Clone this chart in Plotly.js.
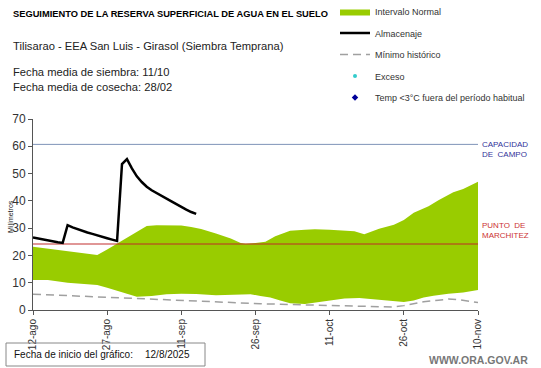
<!DOCTYPE html>
<html><head><meta charset="utf-8">
<script src="https://cdn.plot.ly/plotly-3.0.1.min.js"></script>
<style>html,body{margin:0;padding:0;background:#fff}#chart{width:541px;height:368px}</style>
</head><body><div id="chart"></div>
<script>
// ---- data ----
const almDates = ['2025-08-12','2025-08-13','2025-08-14','2025-08-15','2025-08-16','2025-08-17','2025-08-18','2025-08-19','2025-08-20','2025-08-21','2025-08-22','2025-08-23','2025-08-24','2025-08-25','2025-08-26','2025-08-27','2025-08-28','2025-08-29','2025-08-30','2025-08-31','2025-09-01','2025-09-02','2025-09-03','2025-09-04','2025-09-05','2025-09-06','2025-09-07','2025-09-08','2025-09-09','2025-09-10','2025-09-11','2025-09-12','2025-09-13','2025-09-14'];
const almValues = [26.6,26.2,25.8,25.4,25.1,24.8,24.6,31.1,30.3,29.6,29.0,28.4,27.9,27.3,26.8,26.3,25.8,25.3,53.5,55.3,51.9,49.0,46.9,45.2,43.9,42.8,41.8,40.8,39.8,38.8,37.7,36.8,35.9,35.2];

const upperDates = ['2025-08-12','2025-08-15','2025-08-19','2025-08-22','2025-08-25','2025-08-27','2025-08-29','2025-09-01','2025-09-04','2025-09-06','2025-09-09','2025-09-11','2025-09-13','2025-09-15','2025-09-18','2025-09-21','2025-09-23','2025-09-24','2025-09-26','2025-09-28','2025-09-30','2025-10-03','2025-10-06','2025-10-08','2025-10-11','2025-10-14','2025-10-16','2025-10-18','2025-10-21','2025-10-24','2025-10-26','2025-10-28','2025-10-30','2025-10-31','2025-11-02','2025-11-04','2025-11-05','2025-11-07','2025-11-08','2025-11-10'];
const upperValues = [23.2,22.5,21.4,20.8,20.2,22.2,24.4,27.8,30.8,31.1,30.9,31.0,30.4,29.7,28.0,26.2,24.6,24.3,24.6,25.0,27.0,29.0,29.4,29.6,29.4,29.2,28.9,27.8,29.8,31.2,33.0,35.6,37.2,38.0,40.2,42.3,43.2,44.3,45.2,47.0];

const lowerDates = ['2025-08-12','2025-08-15','2025-08-19','2025-08-22','2025-08-25','2025-08-27','2025-08-29','2025-08-31','2025-09-02','2025-09-05','2025-09-08','2025-09-11','2025-09-14','2025-09-18','2025-09-21','2025-09-23','2025-09-25','2025-09-27','2025-09-29','2025-10-01','2025-10-03','2025-10-06','2025-10-09','2025-10-11','2025-10-14','2025-10-17','2025-10-20','2025-10-22','2025-10-24','2025-10-26','2025-10-28','2025-10-30','2025-11-01','2025-11-04','2025-11-07','2025-11-10'];
const lowerValues = [11.0,11.0,10.0,9.6,9.2,8.2,7.1,5.9,4.9,5.1,5.8,6.0,5.9,5.4,5.6,5.7,5.8,5.1,4.6,3.5,2.5,2.2,3.0,3.6,4.2,4.4,3.9,3.4,3.1,2.9,3.5,4.6,5.2,6.0,6.4,7.3];

const minDates = ['2025-08-12','2025-08-17','2025-08-22','2025-08-25','2025-08-29','2025-09-03','2025-09-07','2025-09-11','2025-09-15','2025-09-19','2025-09-23','2025-09-27','2025-10-01','2025-10-06','2025-10-11','2025-10-17','2025-10-21','2025-10-24','2025-10-26','2025-10-28','2025-10-30','2025-11-02','2025-11-04','2025-11-06','2025-11-08','2025-11-10'];
const minValues = [5.8,5.4,5.0,4.8,4.4,4.0,3.7,3.4,3.1,2.8,2.5,2.3,2.1,1.8,1.6,1.4,1.2,1.1,1.6,2.4,3.0,3.6,4.0,3.8,3.3,2.7];

const refLineDates = ['2025-08-12','2025-11-10'];
const capacidadCampo = [60.7, 60.7];
const puntoMarchitez = [24.2, 24.2];

const tickDates = ['2025-08-12','2025-08-27','2025-09-11','2025-09-26','2025-10-11','2025-10-26','2025-11-10'];
const tickLabels = ['12-ago','27-ago','11-sep','26-sep','11-oct','26-oct','10-nov'];

// ---- chart ----
const FONT = 'Arial, "Liberation Sans", sans-serif';
const traces = [
  {x: lowerDates, y: lowerValues, type:'scatter', mode:'lines', line:{width:0, color:'#99CC00'}, showlegend:false, hoverinfo:'skip'},
  {x: upperDates, y: upperValues, type:'scatter', mode:'lines', fill:'tonexty', fillcolor:'#99CC00', line:{width:0, color:'#99CC00'}, name:'Intervalo Normal', legendgroup:'a', legendrank:1},
  {x: refLineDates, y: capacidadCampo, type:'scatter', mode:'lines', line:{width:1, color:'#7f93b8'}, showlegend:false},
  {x: refLineDates, y: puntoMarchitez, type:'scatter', mode:'lines', line:{width:1.5, color:'rgba(190,40,40,0.65)'}, showlegend:false},
  {x: minDates, y: minValues, type:'scatter', mode:'lines', line:{width:1.5, color:'#a0a0a0', dash:'8px,5px'}, name:'Mínimo histórico', legendgroup:'c', legendrank:3},
  {x: almDates, y: almValues, type:'scatter', mode:'lines', line:{width:2.5, color:'#000000'}, name:'Almacenaje', legendgroup:'b', legendrank:2},
  {x: [almDates[0]], y: [null], type:'scatter', mode:'markers', marker:{size:4, color:'#33cccc', symbol:'circle'}, name:'Exceso', legendgroup:'d', legendrank:4},
  {x: [almDates[0]], y: [null], type:'scatter', mode:'markers', marker:{size:5, color:'#000099', symbol:'diamond'}, name:'Temp <3°C fuera del período habitual', legendgroup:'e', legendrank:5}
];

const L = 33, R = 478, T = 119, B = 310;
const px = v => (v - L) / (R - L);
const py = v => (B - v) / (B - T);

const layout = {
  width: 541, height: 368,
  margin: {l: L, r: 541 - R, t: T, b: 368 - B, autoexpand: false},
  paper_bgcolor: '#ffffff', plot_bgcolor: '#ffffff',
  font: {family: FONT, color: '#333'},
  showlegend: true,
  legend: {x: px(335), y: py(-3), xanchor: 'left', yanchor: 'top', font: {size: 9, color: '#333', family: FONT}, bgcolor: 'rgba(0,0,0,0)', tracegroupgap: 2.5, itemwidth: 30},
  xaxis: {type: 'date', range: ['2025-08-12', '2025-11-10'], tickvals: tickDates, ticktext: tickLabels, tickangle: -90,
    ticks: 'outside', ticklen: 4, tickcolor: '#555', showline: true, linecolor: '#555', linewidth: 1, showgrid: false, zeroline: false,
    tickfont: {size: 10, color: '#333', family: FONT}, fixedrange: true},
  yaxis: {range: [0, 70], dtick: 10, ticks: 'outside', ticklen: 4, tickcolor: '#555', showline: true, linecolor: '#555', linewidth: 1,
    showgrid: false, zeroline: false, tickfont: {size: 12, color: '#333', family: FONT}, fixedrange: true},
  shapes: [
    {type: 'rect', xref: 'paper', yref: 'paper', x0: px(6), x1: px(205), y0: py(366), y1: py(343), line: {color: '#888', width: 1}, fillcolor: 'rgba(0,0,0,0)'}
  ],
  annotations: [
    {xref:'paper', yref:'paper', x: px(11), y: py(14), xanchor:'left', yanchor:'middle', showarrow:false, text:'<b>SEGUIMIENTO DE LA RESERVA SUPERFICIAL DE AGUA EN EL SUELO</b>', font:{size:9.3, color:'#000', family:FONT}},
    {xref:'paper', yref:'paper', x: px(11), y: py(46), xanchor:'left', yanchor:'middle', showarrow:false, text:'Tilisarao - EEA San Luis - Girasol (Siembra Temprana)', font:{size:11.2, color:'#222', family:FONT}},
    {xref:'paper', yref:'paper', x: px(11), y: py(72), xanchor:'left', yanchor:'middle', showarrow:false, text:'Fecha media de siembra: 11/10', font:{size:11.2, color:'#222', family:FONT}},
    {xref:'paper', yref:'paper', x: px(11), y: py(86.5), xanchor:'left', yanchor:'middle', showarrow:false, text:'Fecha media de cosecha: 28/02', font:{size:11.2, color:'#222', family:FONT}},
    {xref:'paper', yref:'paper', x: px(10), y: py(217), xanchor:'center', yanchor:'middle', showarrow:false, textangle:-90, text:'Milímetros', font:{size:7, color:'#222', family:FONT}},
    {xref:'paper', yref:'paper', x: px(480), y: py(149), xanchor:'left', yanchor:'middle', showarrow:false, align:'left', text:'CAPACIDAD<br>DE&nbsp;&nbsp;CAMPO', font:{size:8, color:'#333399', family:FONT}},
    {xref:'paper', yref:'paper', x: px(480), y: py(230), xanchor:'left', yanchor:'middle', showarrow:false, align:'left', text:'PUNTO&nbsp;&nbsp;DE<br>MARCHITEZ', font:{size:8, color:'#cc3333', family:FONT}},
    {xref:'paper', yref:'paper', x: px(12), y: py(354.5), xanchor:'left', yanchor:'middle', showarrow:false, text:'Fecha de inicio del gráfico:', font:{size:10, color:'#111', family:FONT}},
    {xref:'paper', yref:'paper', x: px(143), y: py(354.5), xanchor:'left', yanchor:'middle', showarrow:false, text:'12/8/2025', font:{size:10, color:'#111', family:FONT}},
    {xref:'paper', yref:'paper', x: px(530), y: py(360), xanchor:'right', yanchor:'middle', showarrow:false, text:'<b>WWW.ORA.GOV.AR</b>', font:{size:10.5, color:'#777', family:FONT}}
  ]
};

Plotly.newPlot('chart', traces, layout, {displayModeBar: false, staticPlot: true});
</script>
</body></html>
